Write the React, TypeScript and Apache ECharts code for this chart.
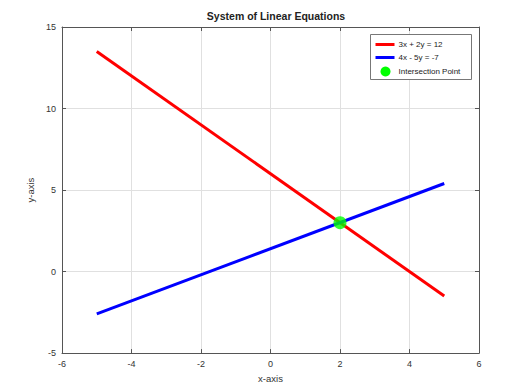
import React, { useEffect, useRef } from "react";
import * as echarts from "echarts";

const line1Name = "3x + 2y = 12";
const line2Name = "4x - 5y = -7";
const pointName = "Intersection Point";
const line1Data = [[-5, 13.5], [5, -1.5]];
const line2Data = [[-5, -2.6], [5, 5.4]];
const pointData = [[2, 3]];
const xTicks = { min: -6, max: 6, interval: 2 };
const yTicks = { min: -5, max: 15, interval: 5 };

const FONT = "Liberation Sans, Arial, Helvetica, sans-serif";
const FRAME = "#555";
const TEXT = "#333";

export default function App() {
  const ref = useRef<HTMLDivElement>(null);
  useEffect(() => {
    if (!ref.current) return;
    const chart = echarts.init(ref.current, null, { renderer: "svg" });
    const axisCommon = {
      axisLine: { show: true, onZero: false, lineStyle: { color: FRAME, width: 1 } },
      axisTick: { show: true, inside: true, length: 4, lineStyle: { color: FRAME } },
      axisLabel: { color: TEXT, fontSize: 9, fontFamily: FONT, margin: 6 },
      splitLine: { show: true, lineStyle: { color: "#e0e0e0", width: 1 } },
    };
    chart.setOption({
      animation: false,
      backgroundColor: "#fff",
      title: {
        text: "System of Linear Equations",
        left: 271,
        textAlign: "center",
        top: 5,
        textStyle: { fontSize: 10.5, fontWeight: "bold", color: "#222", fontFamily: FONT },
      },
      grid: { left: 62, right: 37, top: 27, bottom: 33 },
      xAxis: [
        {
          type: "value",
          ...xTicks,
          position: "bottom",
          ...axisCommon,
          name: "x-axis",
          nameLocation: "middle",
          nameGap: 19,
          nameTextStyle: { color: TEXT, fontSize: 9.5, fontFamily: FONT },
        },
        {
          type: "value",
          ...xTicks,
          position: "top",
          ...axisCommon,
          axisLabel: { show: false },
          splitLine: { show: false },
        },
      ],
      yAxis: [
        {
          type: "value",
          ...yTicks,
          position: "left",
          ...axisCommon,
          name: "y-axis",
          nameLocation: "middle",
          nameGap: 19,
          nameTextStyle: { color: TEXT, fontSize: 9.5, fontFamily: FONT },
        },
        {
          type: "value",
          ...yTicks,
          position: "right",
          ...axisCommon,
          axisLabel: { show: false },
          splitLine: { show: false },
        },
      ],
      series: [
        {
          name: line1Name,
          type: "line",
          data: line1Data,
          showSymbol: false,
          symbol: "none",
          lineStyle: { color: "#ff0000", width: 3 },
          z: 2,
        },
        {
          name: line2Name,
          type: "line",
          data: line2Data,
          showSymbol: false,
          symbol: "none",
          lineStyle: { color: "#0000ff", width: 3 },
          z: 2,
        },
        {
          name: pointName,
          type: "scatter",
          data: pointData,
          symbol: "circle",
          symbolSize: 13,
          itemStyle: { color: "#00ff00" },
          z: 3,
        },
      ],
      graphic: [
        {
          type: "group",
          left: 370,
          top: 34,
          z: 100,
          children: [
            {
              type: "rect",
              z: 100,
              shape: { x: 0, y: 0, width: 101, height: 45 },
              style: { fill: "#fff", stroke: "#777", lineWidth: 1 },
            },
            {
              type: "line",
              z: 101,
              shape: { x1: 5, y1: 10, x2: 24, y2: 10 },
              style: { stroke: "#ff0000", lineWidth: 3 },
            },
            {
              type: "text",
              z: 101,
              x: 28,
              y: 10,
              style: { text: line1Name, fontSize: 8, fontFamily: FONT, fill: "#222", verticalAlign: "middle" },
            },
            {
              type: "line",
              z: 101,
              shape: { x1: 5, y1: 23, x2: 24, y2: 23 },
              style: { stroke: "#0000ff", lineWidth: 3 },
            },
            {
              type: "text",
              z: 101,
              x: 28,
              y: 23,
              style: { text: line2Name, fontSize: 8, fontFamily: FONT, fill: "#222", verticalAlign: "middle" },
            },
            {
              type: "circle",
              z: 101,
              shape: { cx: 15, cy: 37, r: 5 },
              style: { fill: "#00ff00" },
            },
            {
              type: "text",
              z: 101,
              x: 28,
              y: 37,
              style: { text: pointName, fontSize: 8, fontFamily: FONT, fill: "#222", verticalAlign: "middle" },
            },
          ],
        },
      ],
    });
    return () => chart.dispose();
  }, []);
  return <div ref={ref} style={{ width: 516, height: 388, position: "absolute", left: 0, top: 0 }} />;
}
